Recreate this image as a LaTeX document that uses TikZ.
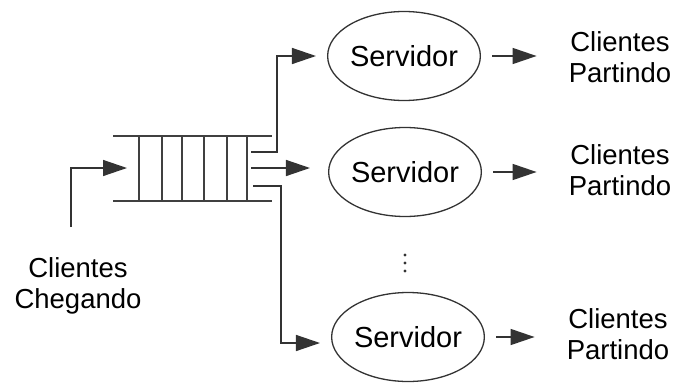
\documentclass[tikz,border=0pt]{standalone}
\usepackage{fontspec}
\setmainfont{Liberation Sans}
\usetikzlibrary{arrows.meta,shapes.geometric}
\begin{document}
\begin{tikzpicture}[x=1pt,y=-1pt,
  line/.style={draw=black!80, line width=1.4pt},
  qline/.style={draw=black!75, line width=1.8pt},
  arr/.style={line, -{Triangle[length=24pt,width=16pt]}},
  server/.style={ellipse, draw=black!80, line width=1.3pt, minimum width=143pt,
    minimum height=89pt, inner sep=0pt, font=\fontsize{29}{33}\selectfont},
  lbl/.style={align=center, font=\fontsize{27.5}{31}\selectfont, inner sep=0pt}]
\useasboundingbox (0,0) rectangle (674,383);

% queue
\draw[qline] (113,136) -- (272,136);
\draw[qline] (113,201) -- (272,201);
\foreach \x in {139,162,182,204,227,247} \draw[qline] (\x,136) -- (\x,201);

\coordinate (cin) at (71,227);
\coordinate (qin) at (139,168);
\coordinate (qt) at (251,152);
\coordinate (qm) at (251,168);
\coordinate (qb) at (253,186);

% servers
\node[server] (s1) at (404,56) {Servidor};
\node[server] (s2) at (405,172) {Servidor};
\node[server] (s3) at (408,337) {Servidor};

% labels
\node[lbl] (in) at (78,286) {Clientes\\Chegando};
\node[lbl] (o1) at (620,57) {Clientes\\Partindo};
\node[lbl] (o2) at (620,170) {Clientes\\Partindo};
\node[lbl] (o3) at (618,334) {Clientes\\Partindo};

% dots
\foreach \y in {255,263,271} \fill[black!80] (405,\y) circle (1.6pt);

% connectors
\draw[arr, shorten >=12pt] (cin) |- (qin);
\draw[arr, shorten >=11pt] (qt) -- ++(26,0) |- (s1.west);
\draw[arr, shorten >=18pt] (qm) -- (qm -| s2.west);
\draw[arr, shorten >=11pt] (qb) -- ++(28,0) |- ([yshift=-6pt]s3.west);

\draw[arr, shorten <=11pt, shorten >=32pt] (s1.east) -- (s1.east -| o1.west);
\draw[arr, shorten <=11pt, shorten >=32pt] (s2.east) -- (s2.east -| o2.west);
\draw[arr, shorten <=11pt, shorten >=32pt] (s3.east) -- (s3.east -| o3.west);
\end{tikzpicture}
\end{document}
